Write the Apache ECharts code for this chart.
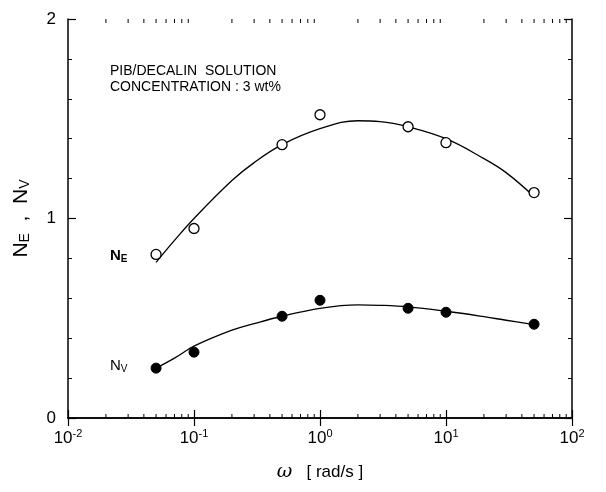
<!DOCTYPE html>
<html>
<head>
<meta charset="utf-8">
<script src="https://cdn.jsdelivr.net/npm/echarts@6/dist/echarts.min.js"></script>
<style>
html,body{margin:0;padding:0;background:#fff;}
#chart{width:606px;height:492px;}
</style>
</head>
<body>
<div id="chart"></div>
<script>
// ---- data ----
const omega = [0.05, 0.1, 0.5, 1, 5, 10, 50];
const NE = [0.82, 0.95, 1.37, 1.52, 1.46, 1.38, 1.13];
const NV = [0.25, 0.33, 0.51, 0.59, 0.55, 0.53, 0.47];
const fitOmega = [0.05, 0.07, 0.1, 0.2, 0.3, 0.5, 1, 2, 3, 5, 10, 20, 30, 50];
const fitNE = [0.78, 0.89, 1.00, 1.19, 1.28, 1.37, 1.45, 1.49, 1.486, 1.46, 1.40, 1.30, 1.23, 1.11];
const fitNV = [0.25, 0.30, 0.36, 0.44, 0.473, 0.51, 0.55, 0.567, 0.565, 0.557, 0.535, 0.508, 0.49, 0.468];
const minorXTicks = [0.02,0.03,0.04,0.05,0.06,0.07,0.08,0.09,
  0.2,0.3,0.4,0.5,0.6,0.7,0.8,0.9, 2,3,4,5,6,7,8,9, 20,30,40,50,60,70,80,90];
const yTickLabels = ['0', '1', '2'];

const FONT = 'Liberation Sans, Arial, sans-serif';
const chart = echarts.init(document.getElementById('chart'), null, {renderer: 'canvas'});

function pairs(xs, ys) { return xs.map((x, i) => [x, ys[i]]); }

const option = {
  backgroundColor: '#fff',
  animation: false,
  textStyle: {fontFamily: FONT, color: '#000'},
  grid: {left: 68, right: 34, top: 19, bottom: 74},
  xAxis: [{
    type: 'log', logBase: 10, min: 0.01, max: 100, position: 'bottom',
    axisLine: {lineStyle: {color: '#000', width: 1.5}},
    axisTick: {inside: true, length: 8, lineStyle: {color: '#000', width: 1.2}},
    splitLine: {show: false},
    axisLabel: {
      margin: 10, color: '#000', fontFamily: FONT, fontSize: 17,
      formatter: v => '10{sup|' + Math.round(Math.log10(v)) + '}',
      rich: {sup: {fontSize: 11, padding: [0, 0, 10, 0], fontFamily: FONT, color: '#000'}}
    },
    name: '{w|ω}   [ rad/s ]', nameLocation: 'middle', nameGap: 45,
    nameTextStyle: {fontSize: 17, color: '#000', fontFamily: FONT,
      rich: {w: {fontFamily: 'DejaVu Serif, serif', fontStyle: 'italic', fontSize: 19, color: '#000'}}}
  }, {
    type: 'log', logBase: 10, min: 0.01, max: 100, position: 'top',
    axisLine: {lineStyle: {color: '#000', width: 1.5}},
    axisTick: {inside: true, length: 8, lineStyle: {color: '#000', width: 1.2}},
    axisLabel: {show: false}, splitLine: {show: false}
  }],
  yAxis: [{
    type: 'value', min: 0, max: 2, interval: 1, position: 'left',
    axisLine: {show: true, lineStyle: {color: '#000', width: 1.5}},
    axisTick: {show: true, inside: true, length: 8, lineStyle: {color: '#000', width: 1.2}},
    minorTick: {show: true, splitNumber: 5, length: 4, lineStyle: {color: '#000', width: 1}},
    splitLine: {show: false},
    axisLabel: {margin: 12, color: '#000', fontSize: 17, fontFamily: FONT,
      formatter: v => yTickLabels[Math.round(v)]},
    name: 'N{sub|E}  ,  N{sub|V}', nameLocation: 'middle', nameGap: 36, nameRotate: 90,
    nameTextStyle: {fontSize: 21, color: '#000', fontFamily: FONT,
      rich: {sub: {fontSize: 14, padding: [8, 0, 0, 0], fontFamily: FONT, color: '#000'}}}
  }, {
    type: 'value', min: 0, max: 2, interval: 1, position: 'right',
    axisLine: {show: true, lineStyle: {color: '#000', width: 1.5}},
    axisTick: {show: true, inside: true, length: 8, lineStyle: {color: '#000', width: 1.2}},
    minorTick: {show: true, splitNumber: 5, length: 4, lineStyle: {color: '#000', width: 1}},
    splitLine: {show: false}, axisLabel: {show: false}
  }],
  series: [
    {
      type: 'custom', xAxisIndex: 0, yAxisIndex: 0, silent: true, clip: false,
      data: minorXTicks.map(v => [v]),
      encode: {x: 0},
      renderItem: function (params, api) {
        const v = api.value(0);
        const b = api.coord([v, 0]);
        const t = api.coord([v, 2]);
        const st = {stroke: '#000', lineWidth: 1};
        return {type: 'group', children: [
          {type: 'line', shape: {x1: b[0], y1: b[1], x2: b[0], y2: b[1] - 4}, style: st},
          {type: 'line', shape: {x1: t[0], y1: t[1], x2: t[0], y2: t[1] + 4}, style: st}
        ]};
      }
    },
    {type: 'line', data: pairs(fitOmega, fitNE), smooth: 0.4, showSymbol: false, symbol: 'none',
      lineStyle: {color: '#000', width: 1.3}, silent: true},
    {type: 'line', data: pairs(fitOmega, fitNV), smooth: 0.4, showSymbol: false, symbol: 'none',
      lineStyle: {color: '#000', width: 1.3}, silent: true},
    {type: 'scatter', data: pairs(omega, NE), symbol: 'circle', symbolSize: 10,
      itemStyle: {color: '#fff', borderColor: '#000', borderWidth: 1.3, opacity: 1}, z: 5},
    {type: 'scatter', data: pairs(omega, NV), symbol: 'circle', symbolSize: 10,
      itemStyle: {color: '#000', borderColor: '#000', borderWidth: 1, opacity: 1}, z: 5}
  ],
  graphic: [
    {type: 'text', left: 110, top: 64, style: {text: 'PIB/DECALIN  SOLUTION', font: '14px ' + FONT, fill: '#000'}},
    {type: 'text', left: 110, top: 80, style: {text: 'CONCENTRATION : 3 wt%', font: '14px ' + FONT, fill: '#000'}},
    {type: 'text', left: 110, top: 248, style: {
      text: '{n|N}{s|E}', rich: {n: {fontSize: 15, fontWeight: 'bold', fontFamily: FONT, fill: '#000'},
        s: {fontSize: 10, fontWeight: 'bold', fontFamily: FONT, padding: [8, 0, 0, 0], fill: '#000'}}}},
    {type: 'text', left: 110, top: 358, style: {
      text: '{n|N}{s|V}', rich: {n: {fontSize: 15, fontFamily: FONT, fill: '#000'},
        s: {fontSize: 10, fontFamily: FONT, padding: [8, 0, 0, 0], fill: '#000'}}}}
  ]
};
chart.setOption(option);
</script>
</body>
</html>
